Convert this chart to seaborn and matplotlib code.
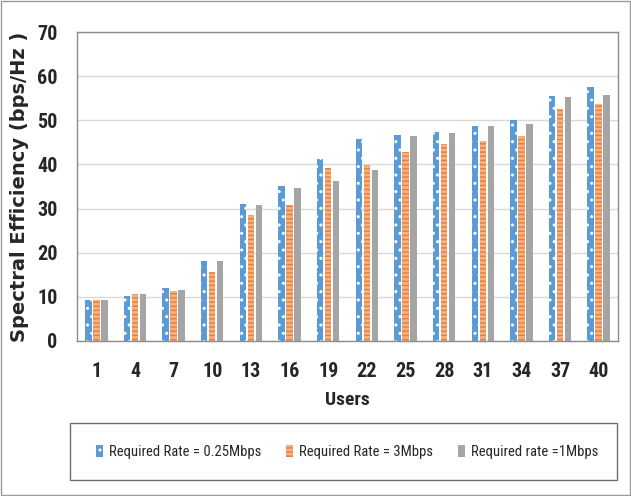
import matplotlib
matplotlib.use("Agg")
import matplotlib.pyplot as plt
import seaborn as sns
import pandas as pd
from matplotlib.patches import Rectangle, Patch
from matplotlib import font_manager

users = [1, 4, 7, 10, 13, 16, 19, 22, 25, 28, 31, 34, 37, 40]
rate_025 = [9.4, 10.3, 12.1, 18.2, 31.1, 35.1, 41.2, 45.8, 46.7, 47.3, 48.8, 50.1, 55.4, 57.5]
rate_3 = [9.4, 10.7, 11.3, 15.6, 28.5, 30.8, 39.2, 39.9, 42.8, 44.6, 45.4, 46.4, 52.5, 53.6]
rate_1 = [9.4, 10.6, 11.6, 18.2, 30.8, 34.7, 36.2, 38.7, 46.4, 47.1, 48.6, 49.2, 55.3, 55.7]
series_names = ["Required Rate = 0.25Mbps", "Required Rate = 3Mbps", "Required rate =1Mbps"]

df = pd.DataFrame({
    "Users": [str(u) for u in users] * 3,
    "value": rate_025 + rate_3 + rate_1,
    "series": [series_names[0]] * len(users) + [series_names[1]] * len(users) + [series_names[2]] * len(users),
})

sns.set_style("white")
available = {f.name for f in font_manager.fontManager.ttflist}
narrow = "Liberation Sans"
for cand in ["Liberation Sans Narrow", "DejaVu Sans Condensed", "Roboto Condensed", "Open Sans Condensed"]:
    if cand in available:
        narrow = cand
        break
plt.rcParams['font.family'] = [narrow, 'DejaVu Sans']
plt.rcParams['hatch.linewidth'] = 1.0

fig = plt.figure(figsize=(6.31, 4.96), dpi=100)
ax = fig.add_axes([77/631, 1 - 341/496, (618-77)/631, (341-32)/496])

face = ["#5B9BD5", "#F4B183", "#A5A5A5"]
edge = ["#FFFFFF", "#ED7D31", "#A5A5A5"]
hatches = ["..", "----", ""]

sns.barplot(data=df, x="Users", y="value", hue="series", palette=face,
            width=0.62, gap=0.2, ax=ax, legend=False, saturation=1)

for i, cont in enumerate(ax.containers):
    for bar in cont:
        bar.set_facecolor(face[i])
        bar.set_edgecolor(edge[i])
        bar.set_hatch(hatches[i])
        bar.set_linewidth(0)

ax.set_ylim(0, 70)
ax.set_yticks(range(0, 71, 10))
ax.yaxis.grid(True, color="#D9D9D9", linewidth=1)
ax.set_axisbelow(True)
for s in ax.spines.values():
    s.set_color("#8C8C8C")
    s.set_linewidth(1)
ax.tick_params(axis="x", length=0, labelsize=14.5, pad=15)
ax.tick_params(axis="y", length=0, labelsize=14.5, pad=14)
for lab in ax.get_xticklabels() + ax.get_yticklabels():
    lab.set_fontweight("bold")
ax.set_xlabel("Users", fontsize=14, fontweight="bold", labelpad=7)
ax.set_ylabel("Spectral Efficiency (bps/Hz )", fontsize=14, fontweight="bold",
              family=['DejaVu Sans'], labelpad=6)

# legend box
fig.add_artist(Rectangle((70/631, 16/496), (617-70)/631, (73-16)/496,
                         transform=fig.transFigure, fill=False,
                         edgecolor="#6E6E6E", linewidth=1))
handles = [Patch(facecolor=face[i], edgecolor=edge[i], hatch=hatches[i], linewidth=0)
           for i in range(3)]
fig.legend(handles, series_names, loc="center", bbox_to_anchor=(347/631, 1 - 452/496),
           ncol=3, frameon=False, fontsize=10.5, handlelength=0.5, handleheight=0.9,
           handletextpad=0.4, columnspacing=1.7)

# outer border
fig.add_artist(Rectangle((0.001, 0.002), 0.997, 0.996, transform=fig.transFigure,
                         fill=False, edgecolor="#9A9A9A", linewidth=1))

fig.savefig("out.png", dpi=100)
